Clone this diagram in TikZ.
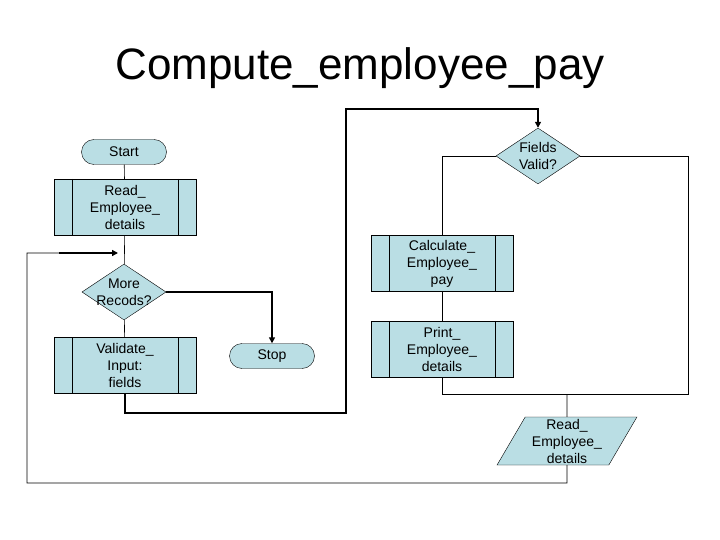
\documentclass[tikz,border=0pt]{standalone}
\usepackage{fontspec}
\setmainfont{Liberation Sans}
\usetikzlibrary{shapes.geometric,shapes.multipart,arrows.meta}
\definecolor{fc}{RGB}{186,222,228}
\begin{document}
\begin{tikzpicture}[x=1pt,y=-1pt,
  every node/.style={font=\fontsize{14}{17}\selectfont, align=center, inner sep=0},
  term/.style={draw, fill=fc, rounded corners=12.5pt, minimum width=85pt, minimum height=25pt},
  sub/.style={draw, fill=fc, minimum width=142pt, minimum height=56pt},
  dec/.style={draw, fill=fc, diamond, minimum width=84pt, minimum height=56pt},
  io/.style={draw, fill=fc, trapezium, trapezium left angle=62, trapezium right angle=118, minimum width=140pt, minimum height=48pt, trapezium stretches=true},
  ln/.style={draw, line width=0.6pt},
  thk/.style={draw, line width=1.6pt, -{Triangle[length=6pt,width=6pt]}}]
\useasboundingbox (0,0) rectangle (720,540);
\node (title) at (360,68) {\fontsize{44}{48}\selectfont Compute\_employee\_pay};
\node[term] (start) at (124,152) {Start};
\node[sub] (read) at (125,207) {Read\_\\Employee\_\\details};
\node[dec] (more) at (124,292) {};
\node at (124,292) {More\\Recods?};
\node[sub] (valid) at (125,365.5) {Validate\_\\Input:\\fields};
\node[term] (stop) at (272,356) {Stop};
\node[dec] (fv) at (538,156) {};
\node at (538,156) {Fields\\Valid?};
\node[sub] (calc) at (442,263.5) {Calculate\_\\Employee\_\\pay};
\node[sub] (print) at (442,349) {Print\_\\Employee\_\\details};
\node[io] (read2) at (567,441) {Read\_\\Employee\_\\details};
\foreach \n in {read,valid,calc,print}{
  \draw[ln] ([xshift=18pt]\n.north west) -- ([xshift=18pt]\n.south west);
  \draw[ln] ([xshift=-18pt]\n.north east) -- ([xshift=-18pt]\n.south east);
}
\coordinate (j) at (118,253);
\coordinate (k) at (567,394);
\draw[ln] (start) -- (read);
\draw[ln] (read) -- (more);
\draw[ln] (more) -- (valid);
\draw[ln] (read2.south) -- (567,483) -- (27,483) -- (27,253) -- (59,253);
\draw[thk] (59,253) -- (j);
\draw[thk] (more.east) -| (stop.north);
\draw[thk] (valid.south) |- (346,413) |- (538,109) -- (fv.north);
\draw[ln] (fv.west) -| (calc.north);
\draw[ln] (calc) -- (print);
\draw[ln] (print.south) |- (k);
\draw[ln] (fv.east) -| (688,394) -- (k);
\draw[ln] (k) -- (read2.north);
\end{tikzpicture}
\end{document}
